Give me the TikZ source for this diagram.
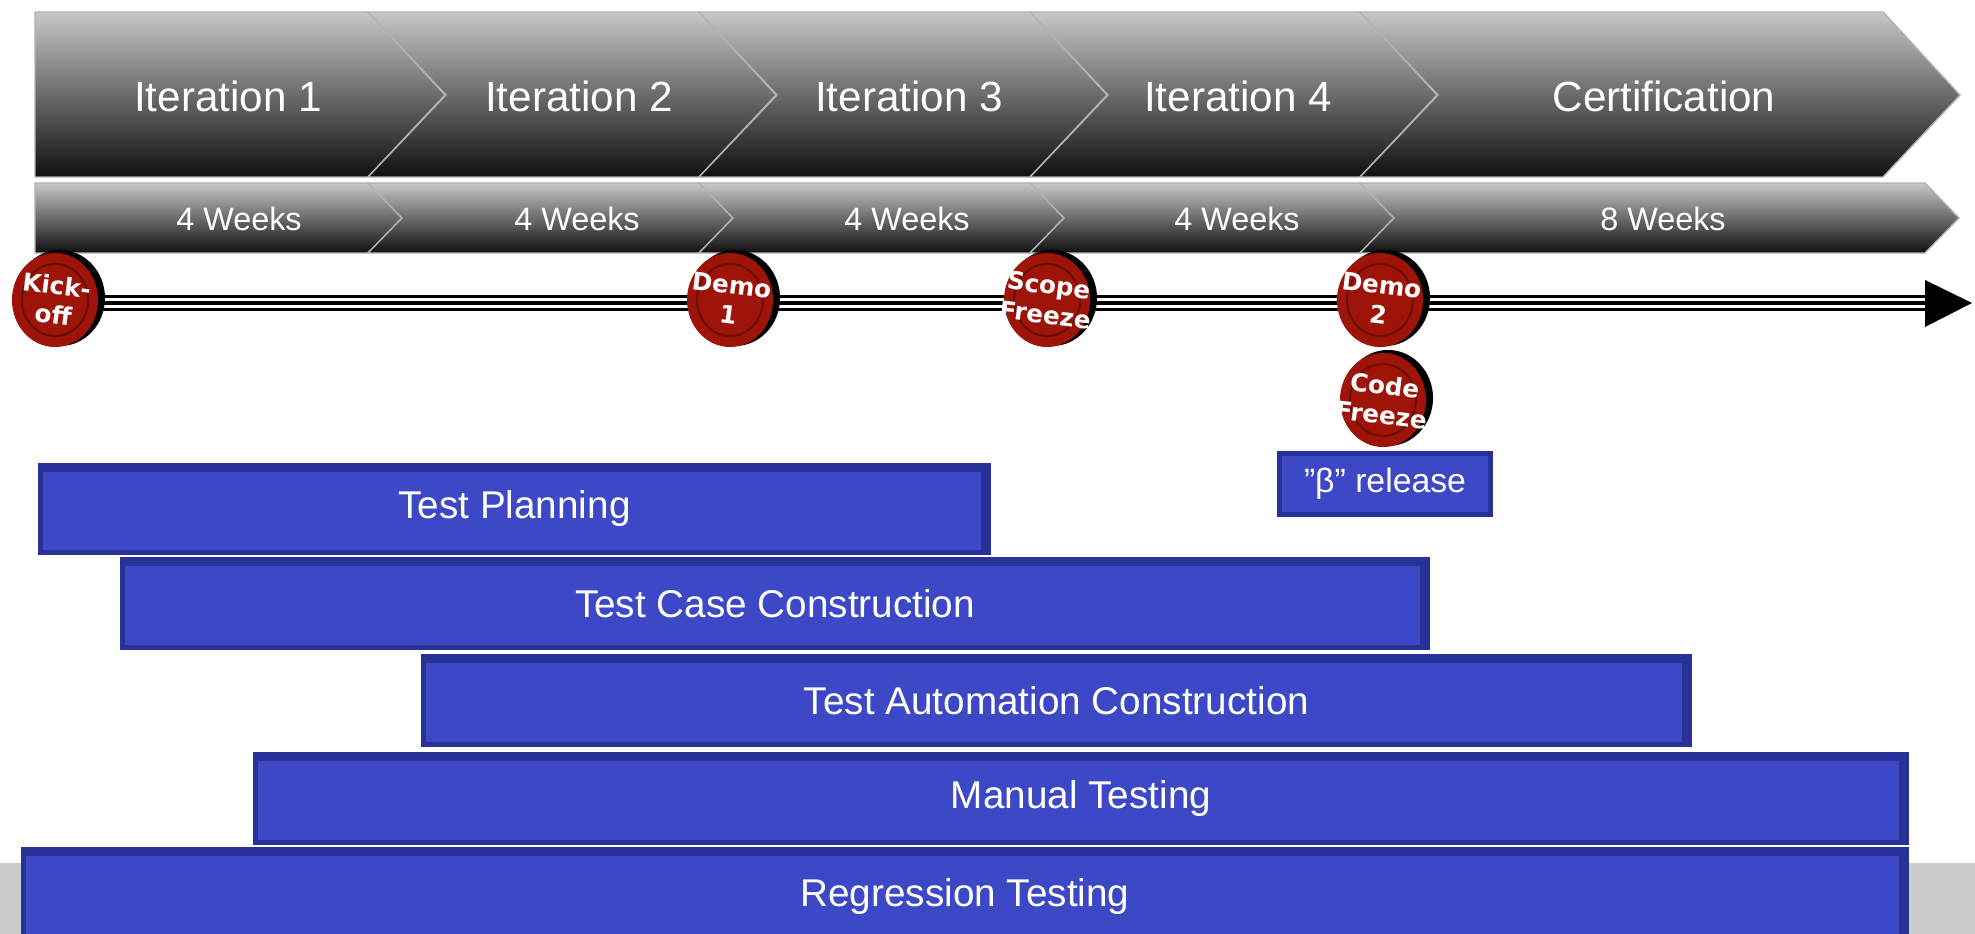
\documentclass[tikz,border=0pt]{standalone}
\usepackage{fontspec}
\setmainfont{Liberation Sans}
\newfontfamily\msfont{DejaVu Sans}
\usetikzlibrary{positioning,calc}
\definecolor{barfill}{RGB}{61,72,198}
\definecolor{baredge}{RGB}{40,49,152}
\definecolor{msred}{RGB}{158,20,8}
\definecolor{band}{RGB}{204,204,204}
\tikzset{phase/.style={top color=black!22,middle color=black!60,bottom color=black!94,draw=black!30,line width=0.4pt},
         phaselabel/.style={text=white,font=\fontsize{12}{14}\selectfont},
         weeklabel/.style={text=white,font=\fontsize{9.2}{11}\selectfont},
         barlabel/.style={text=white,font=\fontsize{11}{13}\selectfont},
         mslabel/.style={text=white,font=\msfont\bfseries\fontsize{7}{8.5}\selectfont,align=center,rotate=-7,inner sep=0pt}
}
\tikzstyle{timeline} = [line width=4.8pt]
% milestone disc: coordinate name, label
\newcommand\milestone[2]{%
  \fill[black] ($(#1)+(5,-2)$) ellipse [x radius=0.45cm,y radius=0.48cm];
  \fill[msred] (#1) ellipse [x radius=0.43cm,y radius=0.47cm];
  \draw[msred!70!black,line width=0.6pt] (#1) ellipse [x radius=0.33cm,y radius=0.36cm];
  \node[mslabel] (#1-txt) at (#1) {#2};}
% task bar: name, x0, y0, x1, y1, label
\newcommand\taskbar[6]{%
  \fill[baredge] (#2,#3) rectangle (#4,#5);
  \fill[barfill] ({#2+5},{#3+9}) rectangle ({#4-10},{#5-5});
  \node[barlabel] (#1) at ({(#2+#4)/2},{(#3+#5)/2}) {#6};}

\begin{document}
\begin{tikzpicture}[x=0.01cm,y=-0.01cm]
\clip (0,0) rectangle (1975,934);
\fill[white] (0,0) rectangle (1975,934);
\fill[band] (0,863) rectangle (1975,934);

% iterations
\foreach \a/\b/\n in {35/368/0,368/699/78,699/1030/78,1030/1360/78,1360/1883/78}
  \path[phase] (\a,12) -- (\b,12) -- ({\b+77},95) -- (\b,177) -- (\a,177) -- ({\a+\n},95) -- cycle;
\foreach \a/\b/\n in {35/368/0,368/699/34,699/1030/34,1030/1360/34,1360/1925/34}
  \path[phase] (\a,183) -- (\b,183) -- ({\b+34},218) -- (\b,253) -- (\a,253) -- ({\a+\n},218) -- cycle;

\node[phaselabel] (it1) at (228,96) {Iteration 1};
\node[phaselabel] (it2) at (579,96) {Iteration 2};
\node[phaselabel] (it3) at (909,96) {Iteration 3};
\node[phaselabel] (it4) at (1238,96) {Iteration 4};
\node[phaselabel] (cert) at (1664,96) {Certification};
\node[weeklabel] (wk1) at (239,219) {4 Weeks};
\node[weeklabel] (wk2) at (577,219) {4 Weeks};
\node[weeklabel] (wk3) at (907,219) {4 Weeks};
\node[weeklabel] (wk4) at (1237,219) {4 Weeks};
\node[weeklabel] (wk5) at (1663,219) {8 Weeks};

% timeline
\coordinate (ko) at (55,300);
\coordinate (demoA) at (730,300);
\coordinate (scope) at (1047,300);
\coordinate (demoB) at (1380,300);
\coordinate (code) at (1383,400);
\coordinate (tlend) at (1926,303);
\draw[timeline,black] (ko|-tlend) -- (tlend);
\draw[line width=3.1pt,white] (ko|-tlend) -- (tlend);
\draw[line width=1.1pt,black] (ko|-tlend) -- (tlend);
\fill[black] (1925,280) -- (1972,303) -- (1925,327) -- cycle;

\milestone{ko}{Kick-\\off}
\milestone{demoA}{Demo\\1}
\milestone{scope}{Scope\\Freeze}
\milestone{demoB}{Demo\\2}
\milestone{code}{Code\\Freeze}

% beta release
\fill[baredge] (1277,451) rectangle (1493,517);
\fill[barfill] (1282,456) rectangle (1488,512);
\node[barlabel,font=\fontsize{9.6}{11}\selectfont] (beta) at (1385,484) {”β” release};

% test activities
\taskbar{plan}{38}{463}{991}{555}{Test Planning}
\taskbar{tcc}{120}{557}{1430}{650}{Test Case Construction}
\taskbar{tac}{421}{654}{1692}{747}{Test Automation Construction}
\taskbar{manual}{253}{752}{1909}{845}{Manual Testing}
\taskbar{regr}{21}{847}{1909}{946}{Regression Testing}
\end{tikzpicture}
\end{document}
